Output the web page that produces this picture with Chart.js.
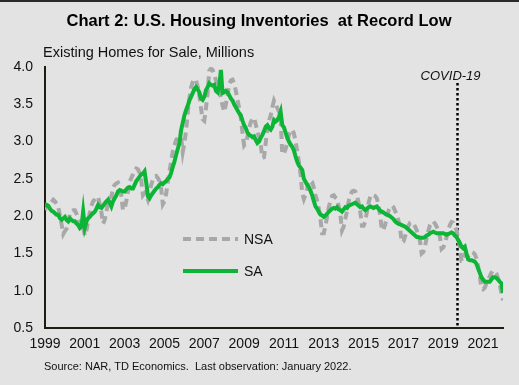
<!DOCTYPE html>
<html>
<head>
<meta charset="utf-8">
<script src="https://cdn.jsdelivr.net/npm/chart.js@4.4.1/dist/chart.umd.min.js"></script>
<style>
  html, body { margin: 0; padding: 0; background: #e3e3e3; }
  #wrap { width: 519px; height: 385px; }
</style>
</head>
<body>
<div id="wrap"><canvas id="chart" width="519" height="385"></canvas></div>
<script>
console.log("Housing inventory chart");

/* -------- DATA (monthly, Jan 1999 - Jan 2022, millions) -------- */
const startYear = 1999;
const endYear = 2022;
const tickYears = [1999, 2001, 2003, 2005, 2007, 2009, 2011, 2013, 2015, 2017, 2019, 2021];
const yTicks = [0.5, 1.0, 1.5, 2.0, 2.5, 3.0, 3.5, 4.0];
const covidDate = 2019.67;

const saValues = [
  2.13, 2.15, 2.14, 2.10, 2.07, 2.06, 2.04, 2.02, 2.02, 1.97, 1.95, 1.97, // 1999
  1.99, 1.95, 1.93, 1.97, 1.95, 1.93, 1.93, 1.90, 1.88, 1.84, 1.86, 2.06, // 2000
  1.85, 1.93, 1.97, 1.99, 2.02, 2.04, 2.06, 2.10, 2.15, 2.12, 2.11, 2.14, // 2001
  2.17, 2.20, 2.22, 2.18, 2.13, 2.20, 2.24, 2.28, 2.33, 2.35, 2.34, 2.33, // 2002
  2.33, 2.36, 2.38, 2.39, 2.37, 2.37, 2.42, 2.47, 2.50, 2.53, 2.56, 2.57, // 2003
  2.60, 2.45, 2.27, 2.24, 2.28, 2.31, 2.34, 2.37, 2.39, 2.42, 2.44, 2.43, // 2004
  2.45, 2.47, 2.50, 2.52, 2.58, 2.66, 2.73, 2.82, 2.90, 2.98, 3.15, 3.25, // 2005
  3.35, 3.42, 3.48, 3.55, 3.60, 3.65, 3.70, 3.73, 3.70, 3.66, 3.58, 3.56, // 2006
  3.60, 3.69, 3.73, 3.78, 3.76, 3.75, 3.76, 3.68, 3.66, 3.75, 3.96, 3.65, // 2007
  3.66, 3.68, 3.66, 3.62, 3.58, 3.55, 3.50, 3.46, 3.42, 3.38, 3.35, 3.28, // 2008
  3.22, 3.18, 3.12, 3.09, 3.08, 3.06, 3.07, 3.02, 2.98, 3.00, 3.05, 3.09, // 2009
  3.14, 3.20, 3.22, 3.18, 3.16, 3.20, 3.29, 3.27, 3.29, 3.33, 3.40, 3.22, // 2010
  3.19, 3.12, 3.05, 3.00, 2.96, 2.93, 2.88, 2.80, 2.73, 2.68, 2.65, 2.62, // 2011
  2.50, 2.46, 2.42, 2.39, 2.34, 2.28, 2.20, 2.13, 2.10, 2.06, 2.02, 2.01, // 2012
  1.99, 2.01, 2.03, 2.06, 2.08, 2.10, 2.11, 2.10, 2.12, 2.09, 2.08, 2.06, // 2013
  2.09, 2.12, 2.11, 2.14, 2.15, 2.16, 2.17, 2.18, 2.16, 2.14, 2.12, 2.13, // 2014
  2.10, 2.08, 2.10, 2.12, 2.13, 2.12, 2.11, 2.12, 2.13, 2.10, 2.07, 2.06, // 2015
  2.05, 2.03, 2.02, 2.01, 2.00, 1.98, 1.96, 1.93, 1.91, 1.90, 1.89, 1.88, // 2016
  1.87, 1.86, 1.84, 1.82, 1.80, 1.78, 1.76, 1.74, 1.72, 1.72, 1.71, 1.71, // 2017
  1.71, 1.72, 1.74, 1.75, 1.77, 1.78, 1.79, 1.78, 1.77, 1.77, 1.77, 1.77, // 2018
  1.77, 1.76, 1.75, 1.76, 1.77, 1.78, 1.77, 1.74, 1.72, 1.68, 1.64, 1.59, // 2019
  1.57, 1.59, 1.50, 1.42, 1.41, 1.41, 1.40, 1.39, 1.36, 1.30, 1.24, 1.18, // 2020
  1.15, 1.12, 1.12, 1.12, 1.12, 1.15, 1.18, 1.18, 1.17, 1.15, 1.12, 1.10, // 2021
  0.97                                                                    // 2022
];

const nsaValues = [
  2.08, 2.14, 2.12, 2.16, 2.19, 2.22, 2.20, 2.16, 2.12, 2.01, 1.89, 1.76, // 1999
  1.80, 1.83, 1.89, 2.03, 2.07, 2.08, 2.08, 2.03, 1.97, 1.88, 1.82, 1.85, // 2000
  1.74, 1.81, 1.93, 2.05, 2.14, 2.20, 2.22, 2.25, 2.26, 2.16, 2.05, 1.90, // 2001
  1.95, 2.06, 2.18, 2.25, 2.26, 2.38, 2.42, 2.44, 2.45, 2.40, 2.27, 2.08, // 2002
  2.10, 2.20, 2.33, 2.46, 2.51, 2.56, 2.61, 2.64, 2.63, 2.58, 2.48, 2.28, // 2003
  2.31, 2.28, 2.22, 2.31, 2.42, 2.49, 2.53, 2.54, 2.51, 2.47, 2.37, 2.16, // 2004
  2.20, 2.30, 2.45, 2.60, 2.73, 2.87, 2.95, 3.02, 3.05, 3.04, 3.06, 2.86, // 2005
  2.98, 3.15, 3.38, 3.58, 3.72, 3.80, 3.84, 3.82, 3.74, 3.62, 3.45, 3.30, // 2006
  3.28, 3.45, 3.65, 3.95, 3.98, 3.96, 3.90, 3.82, 3.75, 3.68, 3.58, 3.48, // 2007
  3.40, 3.50, 3.62, 3.76, 3.82, 3.83, 3.78, 3.68, 3.56, 3.45, 3.32, 3.12, // 2008
  2.95, 2.98, 3.06, 3.18, 3.26, 3.30, 3.32, 3.23, 3.13, 3.06, 2.96, 2.78, // 2009
  2.79, 2.98, 3.16, 3.28, 3.35, 3.46, 3.55, 3.50, 3.45, 3.40, 3.30, 2.83, // 2010
  2.84, 2.90, 2.99, 3.09, 3.14, 3.16, 3.11, 3.00, 2.87, 2.73, 2.57, 2.31, // 2011
  2.23, 2.29, 2.37, 2.46, 2.48, 2.46, 2.38, 2.28, 2.21, 2.10, 1.96, 1.77, // 2012
  1.77, 1.87, 1.99, 2.12, 2.20, 2.27, 2.28, 2.25, 2.23, 2.13, 2.02, 1.81, // 2013
  1.86, 1.97, 2.07, 2.20, 2.28, 2.33, 2.34, 2.33, 2.27, 2.18, 2.06, 1.87, // 2014
  1.87, 1.93, 2.06, 2.18, 2.26, 2.29, 2.28, 2.27, 2.24, 2.14, 2.01, 1.81, // 2015
  1.82, 1.89, 1.98, 2.07, 2.12, 2.14, 2.12, 2.07, 2.01, 1.94, 1.83, 1.65, // 2016
  1.66, 1.73, 1.80, 1.87, 1.91, 1.92, 1.90, 1.86, 1.81, 1.75, 1.66, 1.50, // 2017
  1.52, 1.60, 1.71, 1.80, 1.88, 1.92, 1.93, 1.90, 1.86, 1.81, 1.72, 1.56, // 2018
  1.58, 1.64, 1.72, 1.81, 1.88, 1.92, 1.91, 1.86, 1.81, 1.71, 1.59, 1.40, // 2019
  1.40, 1.48, 1.47, 1.46, 1.49, 1.52, 1.51, 1.49, 1.43, 1.33, 1.20, 1.04, // 2020
  1.02, 1.04, 1.10, 1.15, 1.19, 1.24, 1.27, 1.26, 1.23, 1.17, 1.09, 0.97, // 2021
  0.87                                                                    // 2022
];

/* -------- TEXT -------- */
const titleText = "Chart 2: U.S. Housing Inventories  at Record Low";
const unitText = "Existing Homes for Sale, Millions";
const sourceText = "Source: NAR, TD Economics.  Last observation: January 2022.";
const covidText = "COVID-19";

const FONT = '"Liberation Sans", Arial, sans-serif';
const GREEN = '#0cb535';
const GREY = '#a8a8a8';
const AXIS = '#1d1d12';

// month index -> fractional year on the linear x axis
function toPoints(values){
    return values.map((v, i) => ({ x: startYear + i / 12, y: v }));
}

/* -------- EXTRA DRAWING (background, texts, covid line, legend) -------- */
const decorPlugin = {
    id: 'decor',
    beforeDraw(chart){
        const ctx = chart.ctx;
        ctx.save();
        ctx.fillStyle = '#e3e3e3';
        ctx.fillRect(0, 0, chart.width, chart.height);
        ctx.fillStyle = '#2a2a2a';
        ctx.fillRect(0, 0, chart.width, 2);
        ctx.restore();
    },
    beforeDatasetsDraw(chart){
        const ctx = chart.ctx;
        const a = chart.chartArea;
        const cx = Math.round(chart.scales.x.getPixelForValue(covidDate)) + 0.5;
        ctx.save();
        ctx.strokeStyle = '#000';
        ctx.lineWidth = 2.5;
        ctx.setLineDash([2.5, 2.5]);
        ctx.beginPath();
        ctx.moveTo(cx, 83);
        ctx.lineTo(cx, a.bottom);
        ctx.stroke();
        ctx.restore();
    },
    afterDraw(chart){
        const ctx = chart.ctx;
        ctx.save();

        // title
        ctx.fillStyle = '#000';
        ctx.textAlign = 'center';
        ctx.textBaseline = 'alphabetic';
        ctx.font = 'bold 16.5px ' + FONT;
        ctx.fillText(titleText, 259, 26);

        // unit label
        ctx.textAlign = 'left';
        ctx.font = '14.5px ' + FONT;
        ctx.fillStyle = '#111';
        ctx.fillText(unitText, 43, 57);

        // source
        ctx.font = '11px ' + FONT;
        ctx.fillText(sourceText, 44, 370);

        // covid label
        const cx = chart.scales.x.getPixelForValue(covidDate);
        ctx.font = 'italic 13px ' + FONT;
        ctx.textAlign = 'center';
        ctx.fillText(covidText, cx - 6, 80);

        // legend
        const items = [chart.data.datasets[1], chart.data.datasets[0]];
        const ys = [239, 271];
        items.forEach((ds, i) => {
            ctx.strokeStyle = ds.borderColor;
            ctx.lineWidth = ds.borderWidth;
            ctx.setLineDash(ds.borderDash || []);
            ctx.beginPath();
            ctx.moveTo(183, ys[i]);
            ctx.lineTo(238, ys[i]);
            ctx.stroke();
            ctx.setLineDash([]);
            ctx.fillStyle = '#111';
            ctx.font = '14px ' + FONT;
            ctx.textAlign = 'left';
            ctx.textBaseline = 'middle';
            ctx.fillText(ds.label, 244, ys[i] + 1);
        });

        ctx.restore();
    }
};

/* -------- CHART -------- */
const ctx = document.getElementById('chart').getContext('2d');

const myChart = new Chart(ctx, {
    type: 'line',
    data: {
        datasets: [{
            label: 'SA',
            data: toPoints(saValues),
            borderColor: GREEN,
            borderWidth: 4,
            pointRadius: 0,
            tension: 0,
            order: 0
        }, {
            label: 'NSA',
            data: toPoints(nsaValues),
            borderColor: GREY,
            borderWidth: 4,
            borderDash: [8, 5],
            pointRadius: 0,
            tension: 0,
            order: 1
        }]
    },
    options: {
        responsive: false,
        animation: false,
        devicePixelRatio: 1,
        layout: { padding: { top: 67, right: 16, bottom: 0, left: 0 } },
        plugins: {
            legend: { display: false },
            title: { display: false },
            tooltip: { enabled: false }
        },
        scales: {
            x: {
                type: 'linear',
                min: startYear,
                max: endYear,
                grid: { display: false, drawTicks: false },
                border: { display: true, color: AXIS, width: 2 },
                afterBuildTicks: s => { s.ticks = tickYears.map(v => ({ value: v })); },
                afterFit: s => { s.height = 57; },
                ticks: {
                    autoSkip: false,
                    maxRotation: 0,
                    padding: 8,
                    color: '#111',
                    font: { family: FONT, size: 14 },
                    callback: v => String(v)
                }
            },
            y: {
                min: yTicks[0],
                max: yTicks[yTicks.length - 1],
                grid: { display: false, drawTicks: false },
                border: { display: true, color: AXIS, width: 2 },
                afterBuildTicks: s => { s.ticks = yTicks.map(v => ({ value: v })); },
                afterFit: s => { s.width = 45; },
                ticks: {
                    padding: 12,
                    color: '#111',
                    font: { family: FONT, size: 14 },
                    callback: v => v.toFixed(1)
                }
            }
        }
    },
    plugins: [decorPlugin]
});
</script>
</body>
</html>
